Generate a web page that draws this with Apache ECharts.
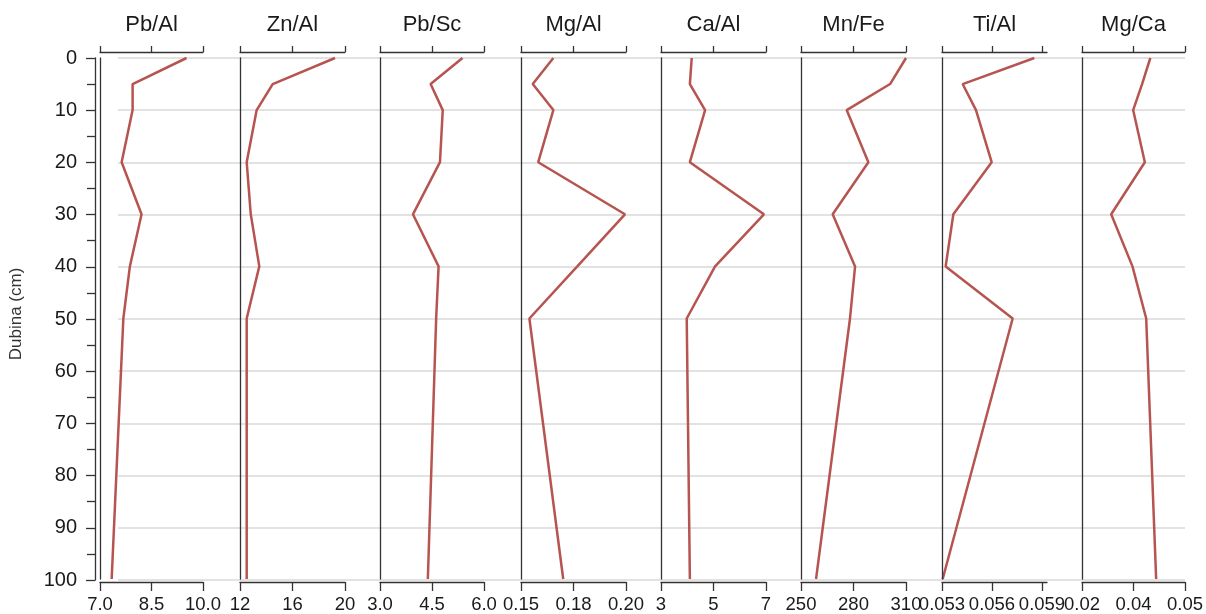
<!DOCTYPE html>
<html>
<head>
<meta charset="utf-8">
<script src="https://cdn.jsdelivr.net/npm/echarts@6/dist/echarts.min.js"></script>
<style>html,body{margin:0;padding:0;background:#fff}#c{width:1206px;height:614px}</style>
</head>
<body>
<div id="c"></div>
<script>
// Depths (cm)
var depths = [0, 5, 10, 20, 30, 40, 50, 100];
var depthTicks = [0, 10, 20, 30, 40, 50, 60, 70, 80, 90, 100];

// Panel titles
var titles = ['Pb/Al', 'Zn/Al', 'Pb/Sc', 'Mg/Al', 'Ca/Al', 'Mn/Fe', 'Ti/Al', 'Mg/Ca'];

// Series values (one per depth)
var pbAl = [9.52, 7.95, 7.95, 7.63, 8.21, 7.87, 7.68, 7.34];
var znAl = [19.24, 14.49, 13.27, 12.51, 12.82, 13.47, 12.51, 12.51];
var pbSc = [5.38, 4.46, 4.81, 4.73, 3.95, 4.69, 4.62, 4.38];
var mgAl = [0.1654, 0.1556, 0.1654, 0.1582, 0.1995, 0.1768, 0.1540, 0.1701];
var caAl = [4.17, 4.10, 4.68, 4.10, 6.92, 5.06, 3.98, 4.10];
var mnFe = [310.0, 300.9, 276.1, 288.5, 268.1, 280.9, 278.0, 258.6];
var tiAl = [0.05854, 0.05424, 0.05504, 0.05598, 0.05368, 0.05322, 0.05724, 0.05304];
var mgCa = [0.0399, 0.0375, 0.0349, 0.0383, 0.0285, 0.0347, 0.0387, 0.0416];

// Axis tick values and their printed labels
var tickVals = [
  [7.0, 8.5, 10.0],
  [12, 16, 20],
  [3.0, 4.5, 6.0],
  [0.15, 0.175, 0.20],
  [3, 5, 7],
  [250, 280, 310],
  [0.053, 0.056, 0.059],
  [0.02, 0.035, 0.05]
];
var tickLabels = [
  ['7.0', '8.5', '10.0'],
  ['12', '16', '20'],
  ['3.0', '4.5', '6.0'],
  ['0.15', '0.18', '0.20'],
  ['3', '5', '7'],
  ['250', '280', '310'],
  ['0.053', '0.056', '0.059'],
  ['0.02', '0.04', '0.05']
];
// Axis extents
var axisMin = [7.0, 12, 3.0, 0.15, 3, 250, 0.053, 0.02];
var axisMax = [10.0, 20, 6.0, 0.20, 7, 310, 0.0593, 0.05];

var seriesVals = [pbAl, znAl, pbSc, mgAl, caAl, mnFe, tiAl, mgCa];

// Layout
var lefts = [100, 240, 380, 521, 661, 801, 942, 1082];
var widths = [103, 105, 104, 105, 105, 105, 105, 105];
var TOP = 58, H = 522;
var FONT = 'Liberation Sans, Arial, Helvetica, sans-serif';
var AX = '#333';
var LINE = '#b65450';

var grids = [], xAxes = [], yAxes = [], series = [];

// grid 0: horizontal gridlines background
grids.push({left: 118, width: 1067, top: TOP, height: H});
xAxes.push({gridIndex: 0, type: 'value', min: 0, max: 1, show: false});
yAxes.push({gridIndex: 0, type: 'value', inverse: true, min: 0, max: 100, interval: 10,
  axisLine: {show: false}, axisTick: {show: false}, axisLabel: {show: false},
  splitLine: {show: true, lineStyle: {color: '#d9d9d9', width: 1.5}}, z: 0});

// grid 1: main depth axis
grids.push({left: 95, width: 1, top: TOP, height: H});
xAxes.push({gridIndex: 1, type: 'value', min: 0, max: 1, show: false});
yAxes.push({gridIndex: 1, type: 'value', inverse: true, min: 0, max: 100, interval: 10,
  name: 'Dubina (cm)', nameLocation: 'middle', nameGap: 70, nameRotate: 90,
  nameTextStyle: {fontFamily: FONT, fontSize: 17, color: '#333', padding: [0, 0, 0, 10]},
  axisLine: {show: true, lineStyle: {color: AX, width: 1.3}},
  axisTick: {show: true, length: 9, lineStyle: {color: AX, width: 1.3}},
  minorTick: {show: true, splitNumber: 2, length: 8, lineStyle: {color: AX, width: 1.3}},
  axisLabel: {show: true, margin: 18, fontFamily: FONT, fontSize: 20, color: '#1a1a1a',
    customValues: depthTicks},
  splitLine: {show: false}});

function labelFor(p) {
  return function (v) {
    var vals = tickVals[p], best = 0;
    for (var i = 1; i < vals.length; i++) {
      if (Math.abs(vals[i] - v) < Math.abs(vals[best] - v)) best = i;
    }
    return tickLabels[p][best];
  };
}

for (var p = 0; p < 8; p++) {
  var gi = grids.length;
  grids.push({left: lefts[p], width: widths[p], top: TOP, height: H});
  var xb = xAxes.length;
  // bottom axis
  xAxes.push({gridIndex: gi, type: 'value', position: 'bottom', offset: 3,
    min: axisMin[p], max: axisMax[p],
    axisLine: {show: true, onZero: false, lineStyle: {color: AX, width: 1.3}},
    axisTick: {show: true, length: 9, customValues: tickVals[p], lineStyle: {color: AX, width: 1.3}},
    axisLabel: {show: true, customValues: tickVals[p], formatter: labelFor(p), margin: 13,
      fontFamily: FONT, fontSize: 18.5, color: '#1a1a1a'},
    splitLine: {show: false}});
  // top axis with title
  xAxes.push({gridIndex: gi, type: 'value', position: 'top', offset: 6,
    min: axisMin[p], max: axisMax[p],
    name: titles[p], nameLocation: 'middle', nameGap: 16,
    nameTextStyle: {fontFamily: FONT, fontSize: 22, color: '#1a1a1a'},
    axisLine: {show: true, onZero: false, lineStyle: {color: AX, width: 1.3}},
    axisTick: {show: true, length: 6, customValues: tickVals[p], lineStyle: {color: AX, width: 1.3}},
    axisLabel: {show: false},
    splitLine: {show: false}});
  var yi = yAxes.length;
  yAxes.push({gridIndex: gi, type: 'value', inverse: true, min: 0, max: 100,
    axisLine: {show: true, onZero: false, lineStyle: {color: AX, width: 1.3}},
    axisTick: {show: false}, axisLabel: {show: false}, splitLine: {show: false}, z: 5});
  var vals = seriesVals[p];
  series.push({type: 'line', xAxisIndex: xb, yAxisIndex: yi, showSymbol: false, symbol: 'none',
    clip: false, z: 3,
    lineStyle: {color: LINE, width: 2.5},
    data: depths.map(function (d, i) { return [vals[i], d]; })});
}

var chart = echarts.init(document.getElementById('c'), null, {renderer: 'canvas'});
chart.setOption({
  animation: false,
  backgroundColor: '#fff',
  grid: grids,
  xAxis: xAxes,
  yAxis: yAxes,
  series: series
});
</script>
</body>
</html>
